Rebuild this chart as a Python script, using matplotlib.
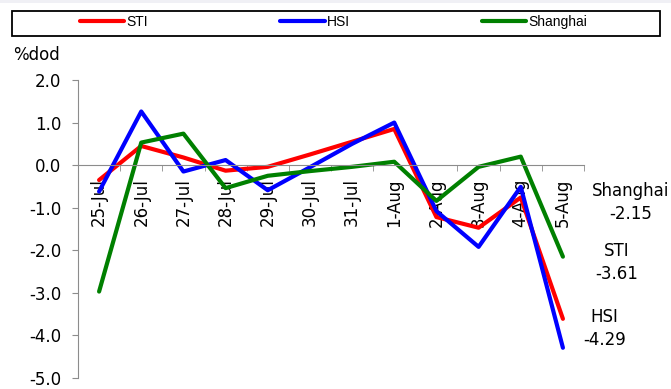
import matplotlib
matplotlib.use("Agg")
import matplotlib.pyplot as plt
from matplotlib.patches import Rectangle
import numpy as np

# daily % change, 25-Jul to 5-Aug
dates = ["25-Jul", "26-Jul", "27-Jul", "28-Jul", "29-Jul", "30-Jul",
         "31-Jul", "1-Aug", "2-Aug", "3-Aug", "4-Aug", "5-Aug"]
sti = [-0.35, 0.45, 0.18, -0.13, -0.04, 0.25, 0.55, 0.85, -1.22, -1.47, -0.76, -3.61]
hsi = [-0.62, 1.26, -0.15, 0.12, -0.59, -0.05, 0.50, 1.00, -1.08, -1.92, -0.51, -4.29]
shanghai = [-2.97, 0.53, 0.74, -0.54, -0.25, -0.14, -0.04, 0.08, -0.84, -0.04, 0.20, -2.15]
y_ticks = [-5, -4, -3, -2, -1, 0, 1, 2]

W, H = 671, 389
fig = plt.figure(figsize=(W / 100, H / 100), dpi=100)
ax = fig.add_axes([78 / W, 1 - 378 / H, (584 - 78) / W, (378 - 80) / H])

x = np.arange(len(dates))
l1, = ax.plot(x, sti, color="#ff0000", lw=3, solid_capstyle="round", label="STI")
l2, = ax.plot(x, hsi, color="#0000ff", lw=3, solid_capstyle="round", label="HSI")
l3, = ax.plot(x, shanghai, color="#008000", lw=3, solid_capstyle="round", label="Shanghai")

ax.set_xlim(-0.5, len(dates) - 0.5)
ax.set_ylim(-5, 2)

axis_grey = "#8c8c8c"
for s in ["top", "right"]:
    ax.spines[s].set_visible(False)
ax.spines["left"].set_color(axis_grey)
ax.spines["bottom"].set_color(axis_grey)
ax.spines["bottom"].set_position(("data", 0))

# category labels in the middle, tick marks on the boundaries
ax.set_xticks(x)
ax.set_xticklabels(dates, rotation=90, fontsize=12, family="DejaVu Sans")
ax.set_xticks(np.arange(-0.5, len(dates)), minor=True)
ax.tick_params(axis="x", which="major", length=0, pad=9.5)
ax.tick_params(axis="x", which="minor", length=4, color=axis_grey, direction="out")

ax.set_yticks(y_ticks)
ax.set_yticklabels([f"{v:.1f}" for v in y_ticks], fontsize=12, family="DejaVu Sans")
ax.tick_params(axis="y", length=4, color=axis_grey, pad=8)

fig.text(13 / W, 1 - 55 / H, "%dod", fontsize=12, family="DejaVu Sans", va="center")

# end-of-series labels
ends = [("Shanghai", shanghai[-1], 12.6, -0.88),
        ("STI", sti[-1], 12.28, -2.28),
        ("HSI", hsi[-1], 11.99, -3.84)]
for name, val, tx, ty in ends:
    ax.text(tx, ty, f"{name}\n{val:.2f}", ha="center", va="center", fontsize=12,
            family="DejaVu Sans", linespacing=1.35, clip_on=False)

# legend strip across the top
fig.patches.append(Rectangle((0, 1 - 3 / H), 1, 3 / H, transform=fig.transFigure,
                             facecolor="#f0f0f5", edgecolor="none"))
fig.patches.append(Rectangle((12 / W, 1 - 36 / H), 648 / W, 25 / H, transform=fig.transFigure,
                             fill=False, edgecolor="black", lw=1.3))
fig.legend(handles=[l1, l2, l3], loc="center left", bbox_to_anchor=(80 / W, 1 - 22 / H),
           ncol=3, frameon=False, borderpad=0, borderaxespad=0,
           handlelength=3.2, handletextpad=0.15, columnspacing=9.5,
           prop={"family": "Liberation Sans", "size": 10})

fig.savefig("out.png", dpi=100)
